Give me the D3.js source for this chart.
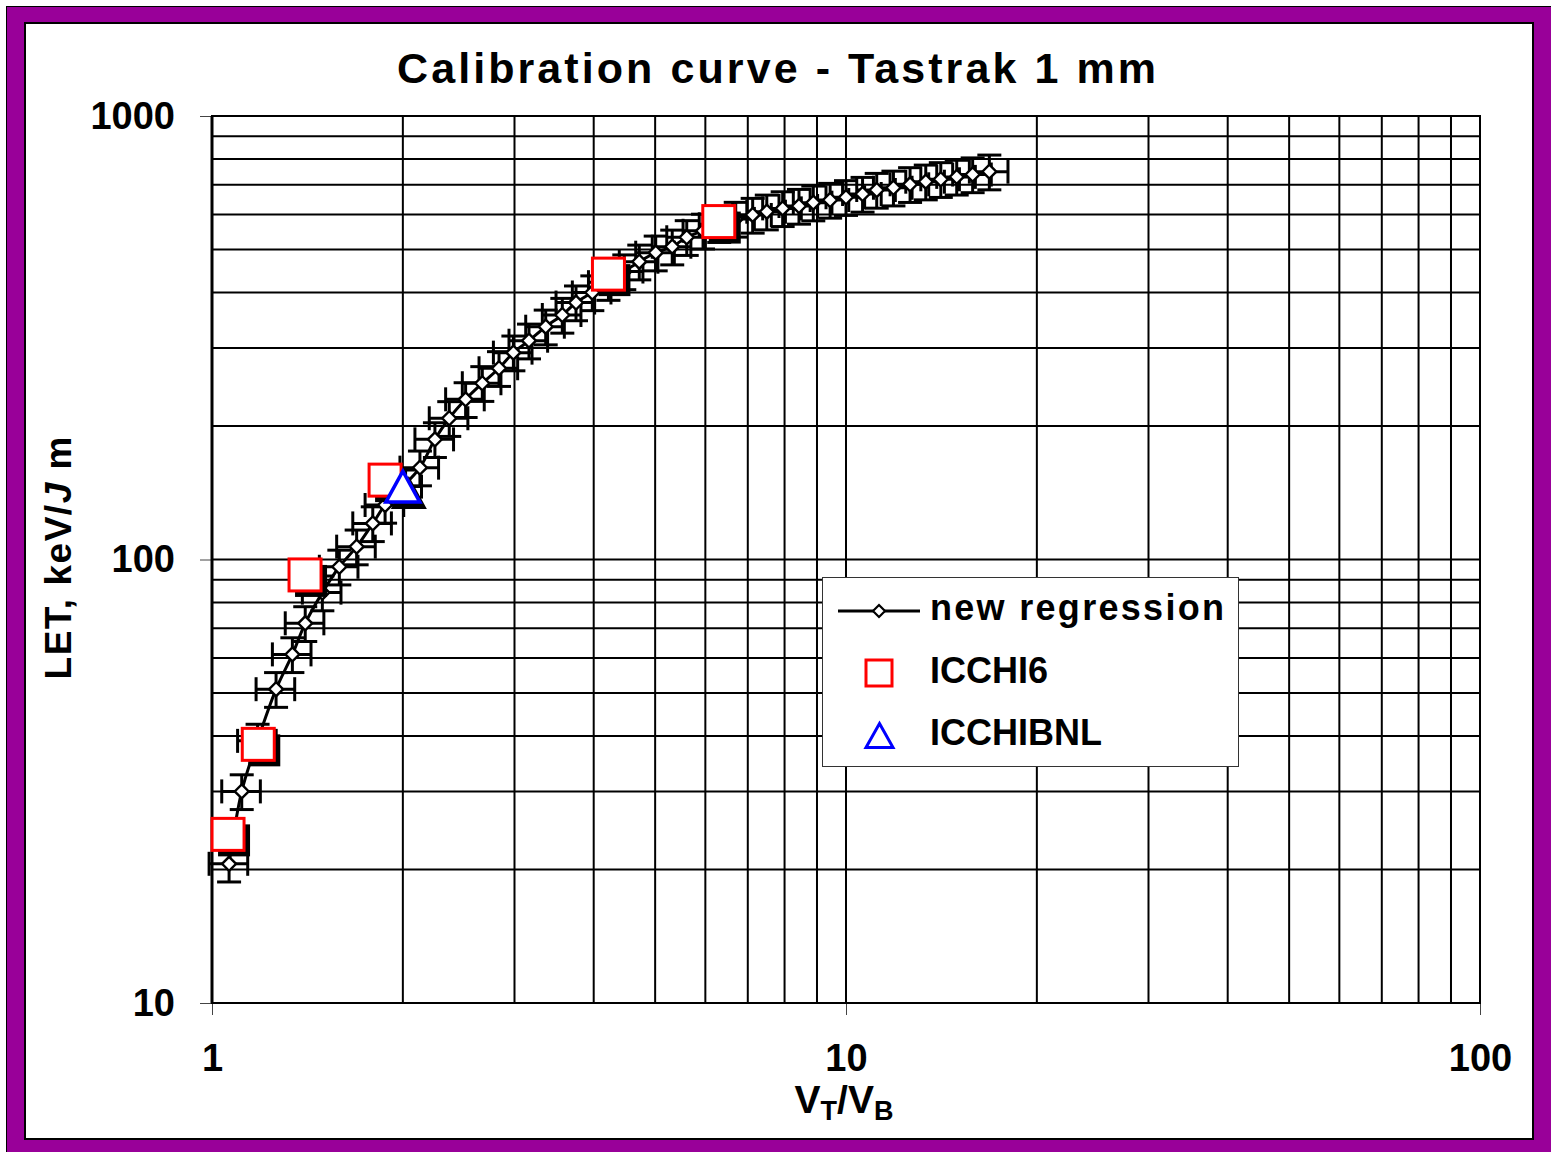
<!DOCTYPE html>
<html>
<head>
<meta charset="utf-8">
<script src="https://cdn.jsdelivr.net/npm/d3@7"></script>
<style>
  html, body { margin: 0; padding: 0; background: #ffffff; }
  svg { display: block; }
  text { font-family: "Liberation Sans", Arial, sans-serif; font-weight: bold; fill: #000; }
</style>
</head>
<body>
<script>
// Calibration curve for Tastrak 1 mm: LET versus track/bulk etch ratio.

// "new regression" series (VT/VB, LET in keV/um)
const regVtVb = [1.064, 1.114, 1.18, 1.262, 1.339, 1.403, 1.493, 1.588, 1.691, 1.793, 1.875, 2.0,
                 2.128, 2.247, 2.367, 2.512, 2.669, 2.836, 2.988, 3.162, 3.36, 3.569, 3.751, 3.98,
                 4.22, 4.47, 4.72, 5.01, 5.32, 5.608, 5.95, 6.31, 6.70, 7.125, 7.5, 7.945, 8.43,
                 8.88, 9.44, 10.0, 10.62, 11.18, 11.88, 12.62, 13.36, 14.11, 14.95, 15.84, 16.83];
const regLET   = [20.6, 30.0, 39.0, 51.0, 61.1, 71.8, 84.2, 96.3, 106.9, 120.6, 132.7, 146,
                  161.1, 186.6, 208.2, 229.7, 249.7, 269.9, 292.7, 311.4, 334.9, 355.9, 379.6, 400,
                  422, 446, 469.3, 491.8, 507.3, 532.8, 551, 570, 586, 598.2, 608.4, 619, 626.7,
                  637.6, 646.6, 655.8, 667, 681, 689, 701.5, 711, 720, 729, 738, 749];

// Relative uncertainties drawn as error bars on the regression points
const regErrX = 0.07;
const regErrY = 0.09;

// ICCHI6 calibration points
const icchi6VtVb = [1.06, 1.183, 1.402, 1.875, 4.22, 6.3];
const icchi6LET  = [24.0, 38.3, 92.3, 151, 440, 578];

// ICCHIBNL calibration point
const icchibnlVtVb = [2.0];
const icchibnlLET  = [146];

// Axis tick labels
const xTickValues = [1, 10, 100];
const yTickValues = [10, 100, 1000];
const legendLabels = ["new regression", "ICCHI6", "ICCHIBNL"];

const W = 1551, H = 1152;
const svg = d3.select("body").append("svg").attr("width", W).attr("height", H);

// Purple outer frame with white chart area
svg.append("rect").attr("x", 6.5).attr("y", 6.5).attr("width", W + 20).attr("height", H + 20)
  .attr("fill", "#990099").attr("stroke", "#000").attr("stroke-width", 1);
svg.append("rect").attr("x", 25).attr("y", 23).attr("width", 1508).attr("height", 1116)
  .attr("fill", "#fff").attr("stroke", "#000").attr("stroke-width", 2);

const x = d3.scaleLog().domain([1, 100]).range([212, 1480]);
const y = d3.scaleLog().domain([10, 1000]).range([1003, 116]);

// Gridlines at every minor log step
const grid = svg.append("g");
grid.selectAll("line.vx").data(x.ticks()).join("line")
  .attr("x1", d => x(d)).attr("x2", d => x(d)).attr("y1", y(1000)).attr("y2", y(10))
  .attr("stroke", "#000").attr("stroke-width", 2);
grid.selectAll("line.hy").data(y.ticks()).join("line")
  .attr("x1", x(1)).attr("x2", x(100)).attr("y1", d => y(d)).attr("y2", d => y(d))
  .attr("stroke", "#000").attr("stroke-width", 2);

// Axes
const yAxis = svg.append("g").attr("transform", `translate(${x(1)},0)`)
  .call(d3.axisLeft(y).tickValues(yTickValues).tickFormat(d3.format("d")).tickSize(12).tickPadding(25));
const xAxis = svg.append("g").attr("transform", `translate(0,${y(10)})`)
  .call(d3.axisBottom(x).tickValues(xTickValues).tickFormat(d3.format("d")).tickSize(12).tickPadding(29));
[yAxis, xAxis].forEach(g => {
  g.select(".domain").remove();
  g.selectAll(".tick line").attr("stroke", "#444").attr("stroke-width", 1);
  g.selectAll(".tick text").style("font-size", "38px").style("font-family", "Liberation Sans, Arial, sans-serif")
    .style("font-weight", "bold").attr("fill", "#000");
});

// Plot border
svg.append("rect").attr("x", x(1)).attr("y", y(1000)).attr("width", x(100) - x(1)).attr("height", y(10) - y(1000))
  .attr("fill", "none").attr("stroke", "#000").attr("stroke-width", 2);
svg.append("line").attr("x1", x(1)).attr("x2", x(1)).attr("y1", y(1000)).attr("y2", y(10))
  .attr("stroke", "#000").attr("stroke-width", 3);

// Error bars on the regression points
const reg = regVtVb.map((v, i) => ({ vx: v, vy: regLET[i] }));
const cap = 12;
const eb = svg.append("g").attr("stroke", "#000").attr("stroke-width", 3);
reg.forEach(d => {
  const cx = x(d.vx), cy = y(d.vy);
  const xl = x(d.vx * (1 - regErrX)), xr = x(d.vx * (1 + regErrX));
  const yt = y(d.vy * (1 + regErrY)), yb = y(d.vy * (1 - regErrY));
  eb.append("line").attr("x1", xl).attr("x2", xr).attr("y1", cy).attr("y2", cy);
  eb.append("line").attr("x1", xl).attr("x2", xl).attr("y1", cy - cap).attr("y2", cy + cap);
  eb.append("line").attr("x1", xr).attr("x2", xr).attr("y1", cy - cap).attr("y2", cy + cap);
  eb.append("line").attr("x1", cx).attr("x2", cx).attr("y1", yt).attr("y2", yb);
  eb.append("line").attr("x1", cx - cap).attr("x2", cx + cap).attr("y1", yt).attr("y2", yt);
  eb.append("line").attr("x1", cx - cap).attr("x2", cx + cap).attr("y1", yb).attr("y2", yb);
});

// Smoothed regression line
const line = d3.line().x(d => x(d.vx)).y(d => y(d.vy)).curve(d3.curveCatmullRom.alpha(0.5));
svg.append("path").datum(reg).attr("d", line).attr("fill", "none").attr("stroke", "#000").attr("stroke-width", 3);

// Diamond markers
const diamond = r => `M0,${-r}L${r},0L0,${r}L${-r},0Z`;
svg.append("g").selectAll("path").data(reg).join("path")
  .attr("transform", d => `translate(${x(d.vx)},${y(d.vy)})`)
  .attr("d", diamond(7)).attr("fill", "#fff").attr("stroke", "#000").attr("stroke-width", 2.4);

// ICCHI6 squares with drop shadow
const sq = 32, shadow = 6;
const icchi6 = icchi6VtVb.map((v, i) => ({ vx: v, vy: icchi6LET[i] }));
const g6 = svg.append("g");
g6.selectAll("rect.sh").data(icchi6).join("rect").attr("class", "sh")
  .attr("x", d => x(d.vx) - sq / 2 + shadow).attr("y", d => y(d.vy) - sq / 2 + shadow)
  .attr("width", sq).attr("height", sq).attr("fill", "#000");
g6.selectAll("rect.mk").data(icchi6).join("rect").attr("class", "mk")
  .attr("x", d => x(d.vx) - sq / 2).attr("y", d => y(d.vy) - sq / 2)
  .attr("width", sq).attr("height", sq).attr("fill", "#fff").attr("stroke", "#ff0000").attr("stroke-width", 3);

// ICCHIBNL triangle with drop shadow
const tri = (w, h) => `M0,${-h / 2}L${w / 2},${h / 2}L${-w / 2},${h / 2}Z`;
const bnl = icchibnlVtVb.map((v, i) => ({ vx: v, vy: icchibnlLET[i] }));
const gb = svg.append("g");
gb.selectAll("path.sh").data(bnl).join("path").attr("class", "sh")
  .attr("transform", d => `translate(${x(d.vx) + shadow},${y(d.vy) + shadow})`)
  .attr("d", tri(36, 33)).attr("fill", "#000");
gb.selectAll("path.mk").data(bnl).join("path").attr("class", "mk")
  .attr("transform", d => `translate(${x(d.vx)},${y(d.vy)})`)
  .attr("d", tri(34, 31)).attr("fill", "#fff").attr("stroke", "#0000ff").attr("stroke-width", 3.5);

// Title
svg.append("text").attr("x", 397).attr("y", 83).attr("textLength", 759).attr("lengthAdjust", "spacing")
  .style("font-size", "43px").text("Calibration curve - Tastrak 1 mm");

// Y axis title
const yt = svg.append("text").attr("transform", "translate(71,558) rotate(-90)")
  .attr("text-anchor", "middle").style("font-size", "37px").attr("textLength", 243).attr("lengthAdjust", "spacing");
yt.append("tspan").text("LET, keV/");
yt.append("tspan").style("font-style", "italic").text("J");
yt.append("tspan").text(" m");

// X axis title with subscripts
const xt = svg.append("text").attr("x", 844).attr("y", 1113).attr("text-anchor", "middle").style("font-size", "39px");
xt.append("tspan").text("V");
xt.append("tspan").attr("dy", 7).style("font-size", "27px").text("T");
xt.append("tspan").attr("dy", -7).text("/V");
xt.append("tspan").attr("dy", 7).style("font-size", "27px").text("B");

// Legend
const lg = svg.append("g");
lg.append("rect").attr("x", 822.5).attr("y", 577.5).attr("width", 416).attr("height", 189)
  .attr("fill", "#fff").attr("stroke", "#333").attr("stroke-width", 1);
lg.append("line").attr("x1", 838).attr("x2", 920).attr("y1", 611).attr("y2", 611)
  .attr("stroke", "#000").attr("stroke-width", 3);
lg.append("path").attr("transform", "translate(879,611)").attr("d", diamond(6))
  .attr("fill", "#fff").attr("stroke", "#000").attr("stroke-width", 2.2);
lg.append("rect").attr("x", 866).attr("y", 660).attr("width", 26).attr("height", 26)
  .attr("fill", "#fff").attr("stroke", "#ff0000").attr("stroke-width", 3);
lg.append("path").attr("transform", "translate(879.5,735.5)").attr("d", tri(27, 24))
  .attr("fill", "#fff").attr("stroke", "#0000ff").attr("stroke-width", 3);
lg.append("text").attr("x", 930).attr("y", 620).attr("textLength", 294).attr("lengthAdjust", "spacing")
  .style("font-size", "36px").text(legendLabels[0]);
lg.append("text").attr("x", 930).attr("y", 683).style("font-size", "36px").text(legendLabels[1]);
lg.append("text").attr("x", 930).attr("y", 745).style("font-size", "36px").text(legendLabels[2]);
</script>
</body>
</html>
